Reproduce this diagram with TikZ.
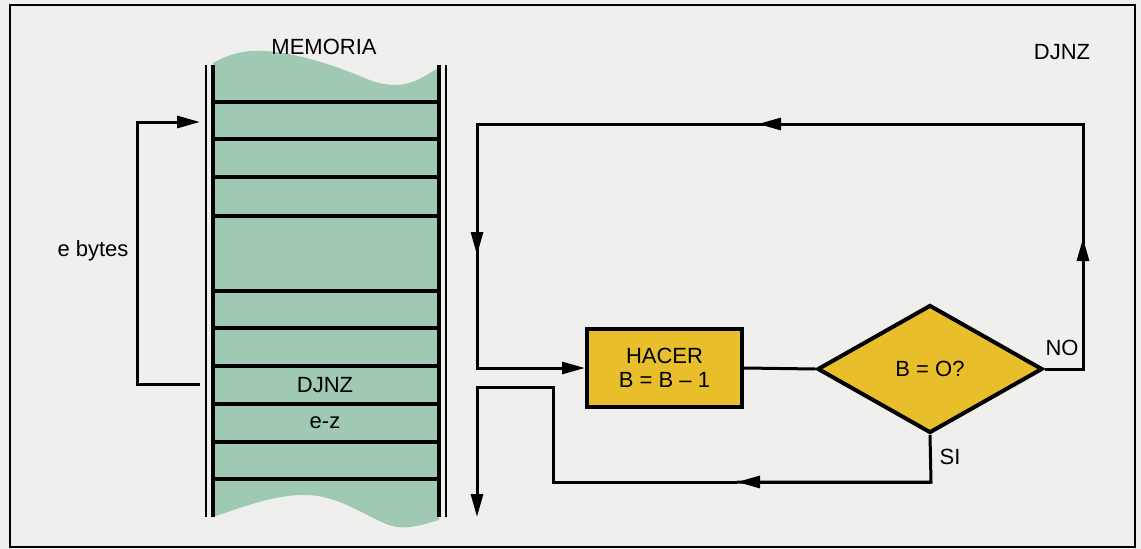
\documentclass[tikz,border=0pt]{standalone}
\usepackage{fontspec}
\setmainfont{Liberation Sans}
\usetikzlibrary{arrows.meta,shapes.geometric}
\definecolor{bg}{RGB}{239,239,237}
\definecolor{memgreen}{RGB}{160,201,180}
\definecolor{boxyellow}{RGB}{232,190,42}
\tikzset{
  lbl/.style={font=\fontsize{22}{25}\selectfont, inner sep=0pt},
  conn/.style={line width=3pt, line join=miter},
  arr/.style={conn, -{Triangle[length=23pt,width=12pt]}},
  rung/.style={line width=4pt},
  procbox/.style={draw, line width=4pt, fill=boxyellow, minimum width=155pt, minimum height=78pt, align=center, font=\fontsize{22}{25}\selectfont, inner sep=0pt},
  decbox/.style={draw, line width=4pt, fill=boxyellow, diamond, minimum width=225pt, minimum height=128pt, font=\fontsize{22}{25}\selectfont, inner sep=0pt}
}
\begin{document}
\begin{tikzpicture}[x=1pt,y=-1pt]
\useasboundingbox (0,0) rectangle (1141,549);
\fill[bg] (0,0) rectangle (1141,549);
\draw[line width=2.5pt] (10,5) rectangle (1135,547);

% memory column
\fill[memgreen] (213,63) .. controls (232,52) and (250,50) .. (265,51)
  .. controls (300,53) and (340,68) .. (360,76)
  .. controls (375,83) and (390,87) .. (405,84)
  .. controls (420,81) and (430,72) .. (439,68)
  -- (439,520)
  .. controls (425,524) and (410,529) .. (397,527)
  .. controls (375,524) and (345,496) .. (307,495)
  .. controls (275,494) and (240,508) .. (213,517) -- cycle;
\draw[line width=2pt] (206,65) -- (206,517);
\draw[line width=4.5pt] (213,65) -- (213,517);
\draw[line width=4.5pt] (439,65) -- (439,517);
\draw[line width=2pt] (446,65) -- (446,517);
\foreach \yy in {102,139,177,216,291,328,366,404,442,479}
  \draw[rung] (213,\yy) -- (439,\yy);

\node[lbl] (mem) at (324,47) {MEMORIA};
\node[lbl] (djnzc) at (325,385) {DJNZ};
\node[lbl] (ez) at (325,423) {e-z};
\node[lbl] (eb) at (93,251) {e bytes};

% left loop
\coordinate (lsrc) at (200,384);
\coordinate (ldst) at (200,122);
\draw[arr] (lsrc) -- (137,384) -- (137,122) -- (ldst);

% flowchart nodes
\node[procbox] (hacer) at (664.5,368) {HACER\\[-1pt]B = B -- 1};
\node[decbox] (dec) at (930,369) {B = O?};
\node[lbl] (no) at (1062,348) {NO};
\node[lbl] (si) at (950,457) {SI};
\node[lbl] (djnzt) at (1062,52) {DJNZ};

\draw[conn] (hacer.east) -- (dec.west);

% NO loop
\coordinate (n1) at (1083,369);
\coordinate (na1) at (1083,238);
\coordinate (n2) at (1083,124);
\coordinate (na2) at (758,124);
\coordinate (n3) at (477,124);
\coordinate (na3) at (477,255);
\coordinate (n4) at (477,368);
\draw[conn] (dec.east) -- (n1) -- (na1);
\draw[arr] (n1) -- (na1);
\draw[conn] (na1) -- (n2) -- (na2);
\draw[arr] (n2) -- (na2);
\draw[conn] (na2) -- (n3) -- (na3);
\draw[arr] (n3) -- (na3);
\draw[arr] (na3) -- (n4) -- (hacer.west);

% SI exit
\coordinate (s1) at (931,482);
\coordinate (sa1) at (737,482);
\coordinate (s2) at (553,482);
\coordinate (s3) at (553,387);
\coordinate (s4) at (477,387);
\coordinate (sout) at (477,517);
\draw[conn] (dec.south) -- (s1) -- (sa1);
\draw[arr] (s1) -- (sa1);
\draw[arr] (sa1) -- (s2) -- (s3) -- (s4) -- (sout);
\end{tikzpicture}
\end{document}
